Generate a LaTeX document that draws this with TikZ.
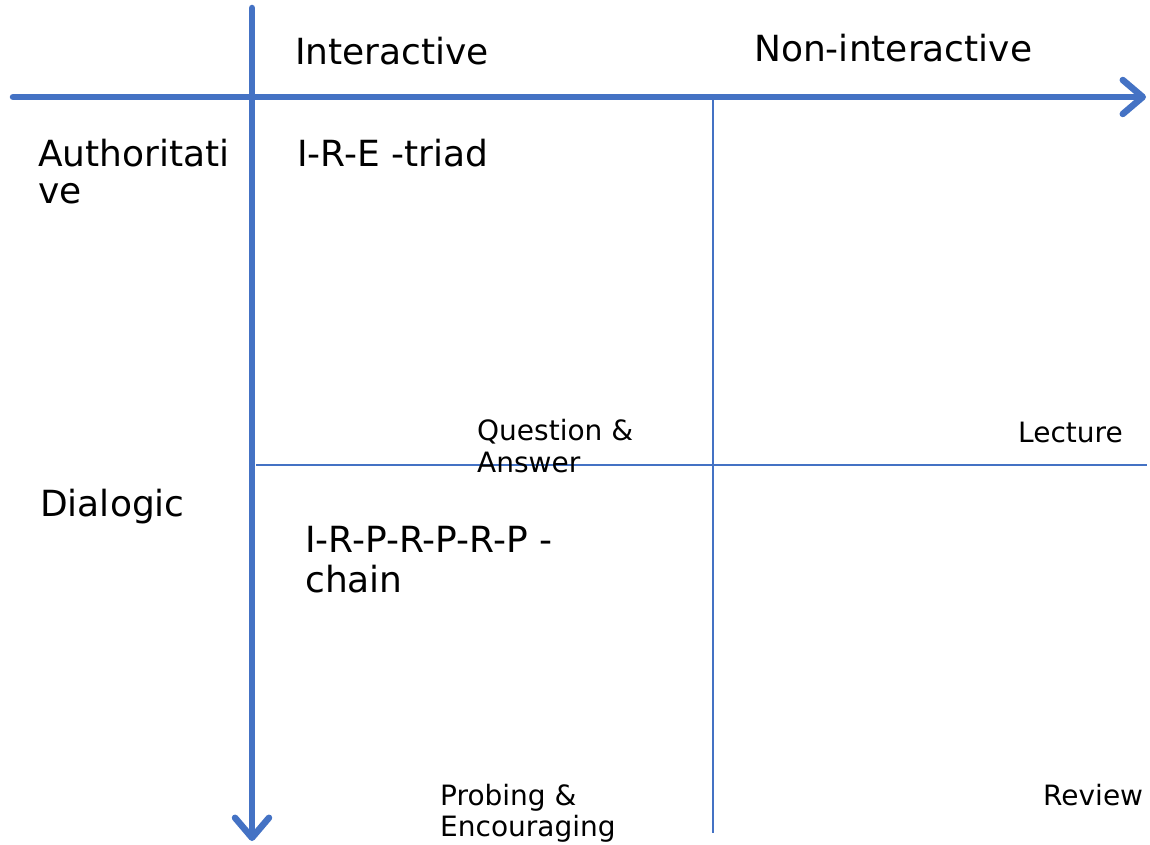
\documentclass[tikz,border=0pt]{standalone}
\usepackage{fontspec}
\setmainfont{DejaVu Sans}
\usetikzlibrary{arrows.meta}
\definecolor{axisblue}{HTML}{4472C4}
\tikzset{
  axis/.style={draw=axisblue, line width=6.5pt, line cap=round,
    -{Straight Barb[length=20pt, width=34pt, round]}},
  divider/.style={draw=axisblue, line width=1.1pt},
  biglabel/.style={anchor=base west, inner sep=0pt, align=left,
    font=\fontsize{36}{38}\selectfont},
  smalllabel/.style={anchor=base west, inner sep=0pt, align=left,
    font=\fontsize{28}{32}\selectfont}
}
\begin{document}
\begin{tikzpicture}[x=1pt, y=1pt]
  \useasboundingbox (0,0) rectangle (1150,-845);
  % axis end points
  \coordinate (vtop) at (252,-8);
  \coordinate (vbot) at (252,-841);
  \coordinate (hleft) at (13,-97);
  \coordinate (hright) at (1146,-97);
  % quadrant dividers
  \coordinate (dtop) at (713,-100);
  \coordinate (dbot) at (713,-833);
  \coordinate (dleft) at (256,-465);
  \coordinate (dright) at (1147,-465);
  \draw[divider] (dtop) -- (dbot);
  \draw[divider] (dleft) -- (dright);
  % main axes
  \draw[axis] (hleft) -- (hright);
  \draw[axis] (vtop) -- (vbot);
  % column and row headings (multi-line nodes sit on their last baseline)
  \node[biglabel] (inter) at (295,-65) {Interactive};
  \node[biglabel] (noninter) at (754,-62) {Non-interactive};
  \node[biglabel] (auth) at (38,-203) {Authoritati\\[-2pt]ve};
  \node[biglabel] (dial) at (40,-516) {Dialogic};
  % quadrant contents
  \node[biglabel] (ire) at (297,-167) {I-R-E -triad};
  \node[biglabel] (irp) at (305,-592) {I-R-P-R-P-R-P -\\[2pt]chain};
  \node[smalllabel] (qa) at (477,-472) {Question \&\\Answer};
  \node[smalllabel, anchor=base east] (lecture) at (1123,-442) {Lecture};
  \node[smalllabel] (probe) at (440,-836) {Probing \&\\[-1pt]Encouraging};
  \node[smalllabel] (review) at (1043,-805) {Review};
\end{tikzpicture}
\end{document}
